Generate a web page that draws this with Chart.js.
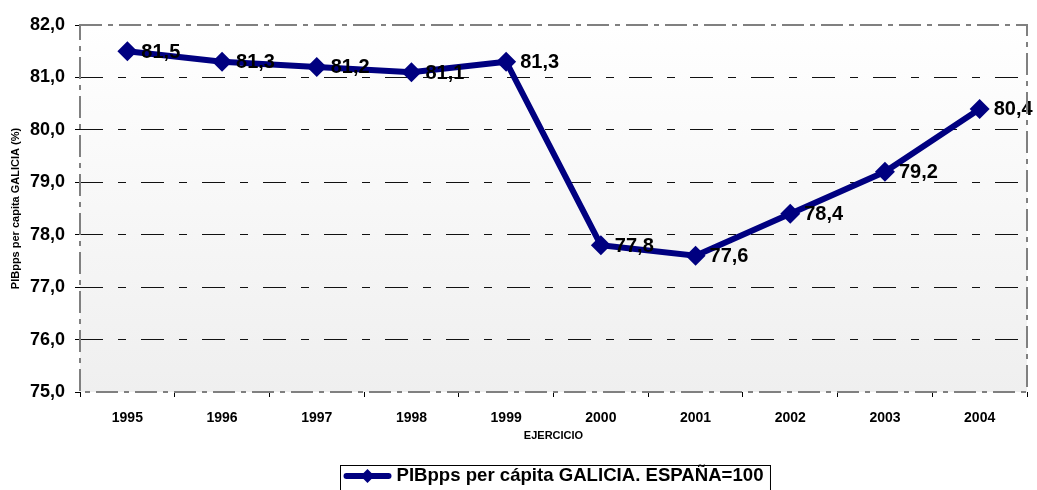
<!DOCTYPE html>
<html>
<head>
<meta charset="utf-8">
<script src="https://cdn.jsdelivr.net/npm/chart.js@4"></script>
<style>
  html, body { margin: 0; padding: 0; background: #fff; }
</style>
</head>
<body>
<canvas id="myChart" width="1037" height="490"></canvas>
<script>
// x-axis categories
var years = ['1995','1996','1997','1998','1999','2000','2001','2002','2003','2004'];
// PIBpps per capita, Spain = 100
var galicia = [81.5, 81.3, 81.2, 81.1, 81.3, 77.8, 77.6, 78.4, 79.2, 80.4];
var seriesLabel = 'PIBpps per cápita GALICIA. ESPAÑA=100';
var yTitle = 'PIBpps per capita GALICIA (%)';
var xTitle = 'EJERCICIO';

var navy = '#000080';
var font = 'Arial, "Liberation Sans", sans-serif';

function comma(v) { return v.toFixed(1).replace('.', ','); }

// plot background + dashed frame
var plotFrame = {
  id: 'plotFrame',
  beforeDatasetsDraw: function(chart) {
    var a = chart.chartArea, c = chart.ctx;
    c.save();
    var g = c.createLinearGradient(0, a.top, 0, a.bottom);
    g.addColorStop(0, '#ffffff');
    g.addColorStop(1, '#efefef');
    c.globalCompositeOperation = 'destination-over';
    c.fillStyle = g;
    c.fillRect(a.left, a.top, a.right - a.left, a.bottom - a.top);
    c.restore();
  },
  afterDraw: function(chart) {
    var a = chart.chartArea, c = chart.ctx;
    c.save();
    c.strokeStyle = '#808080';
    c.lineWidth = 2;
    c.setLineDash([22, 6, 5, 6]);
    c.strokeRect(a.left, a.top, a.right - a.left, a.bottom - a.top);
    c.restore();
  }
};

// boxed legend centred under the plot area
var boxLegend = {
  id: 'boxLegend',
  afterDraw: function(chart) {
    var a = chart.chartArea, c = chart.ctx;
    var cx = (a.left + a.right) / 2, cy = 476;
    c.save();
    c.font = 'bold 18.6px ' + font;
    var tw = c.measureText(seriesLabel).width;
    var symW = 48, gap = 5;
    var x0 = cx - (symW + gap + tw) / 2;
    c.strokeStyle = '#000';
    c.lineWidth = 1;
    c.strokeRect(Math.round(x0) - 3.5, 465.5, symW + gap + tw + 10, 30);
    c.strokeStyle = navy;
    c.lineWidth = 6;
    c.lineCap = 'round';
    c.beginPath(); c.moveTo(x0 + 3, cy); c.lineTo(x0 + symW - 3, cy); c.stroke();
    c.fillStyle = navy;
    var mx = x0 + symW / 2;
    c.beginPath(); c.moveTo(mx, cy - 7); c.lineTo(mx + 7, cy); c.lineTo(mx, cy + 7); c.lineTo(mx - 7, cy); c.closePath(); c.fill();
    c.fillStyle = '#000';
    c.textAlign = 'left';
    c.textBaseline = 'middle';
    c.fillText(seriesLabel, x0 + symW + gap, cy);
    c.restore();
  }
};

var valueLabels = {
  id: 'valueLabels',
  afterDatasetsDraw: function(chart) {
    var c = chart.ctx;
    var meta = chart.getDatasetMeta(0);
    c.save();
    c.font = 'bold 20px ' + font;
    c.fillStyle = '#000';
    c.textAlign = 'left';
    c.textBaseline = 'middle';
    meta.data.forEach(function(pt, i) {
      c.fillText(comma(galicia[i]), pt.x + 14, pt.y + 1);
    });
    c.restore();
  }
};

var ctx = document.getElementById('myChart');
var myChart = new Chart(ctx, {
  type: 'line',
  data: {
    labels: years,
    datasets: [{
      label: seriesLabel,
      data: galicia,
      fill: false,
      borderColor: navy,
      backgroundColor: navy,
      borderWidth: 6,
      pointStyle: 'rectRot',
      pointRadius: 10,
      pointBorderWidth: 0,
      pointBackgroundColor: navy,
      tension: 0
    }]
  },
  options: {
    responsive: false,
    animation: false,
    layout: { padding: { top: 25, right: 6, left: 0, bottom: 47 } },
    plugins: {
      tooltip: { enabled: false },
      legend: { display: false }
    },
    scales: {
      x: {
        offset: true,
        afterFit: function(s) { s.height = 51; },
        grid: { offset: true, drawOnChartArea: false, tickLength: 5, color: '#000', tickColor: '#000' },
        border: { display: false },
        ticks: { color: '#000', padding: 13, maxRotation: 0, font: { family: font, size: 14, weight: 'bold' } },
        title: { display: true, text: xTitle, color: '#000', padding: { top: 4, bottom: 0 }, font: { family: font, size: 11, weight: 'bold' } }
      },
      y: {
        min: 75,
        max: 82,
        afterFit: function(s) { s.width = 80; },
        grid: {
          tickLength: 5,
          tickColor: '#000',
          tickBorderDash: [],
          color: function(c) { return (c.tick && (c.tick.value === 75 || c.tick.value === 82)) ? 'rgba(0,0,0,0)' : '#111'; },
          lineWidth: 1
        },
        border: { display: false, dash: [23, 15, 8, 15] },
        ticks: {
          stepSize: 1,
          color: '#000',
          padding: 10,
          font: { family: font, size: 18, weight: 'bold' },
          callback: function(v) { return comma(v); }
        },
        title: { display: true, text: yTitle, color: '#000', padding: { top: 9, bottom: 0 }, font: { family: font, size: 11, weight: 'bold' } }
      }
    }
  },
  plugins: [plotFrame, valueLabels, boxLegend]
});
</script>
</body>
</html>
